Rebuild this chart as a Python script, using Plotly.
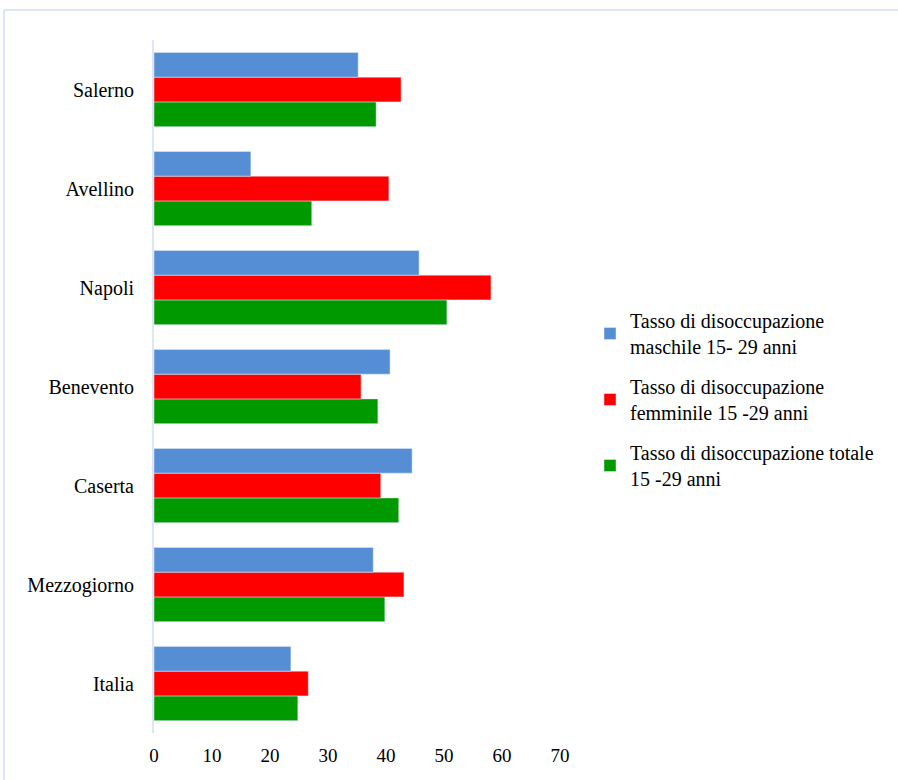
import plotly.graph_objects as go

categories = ["Italia", "Mezzogiorno", "Caserta", "Benevento", "Napoli", "Avellino", "Salerno"]
maschile = [23.6, 37.8, 44.5, 40.7, 45.7, 16.7, 35.2]
femminile = [26.6, 43.1, 39.1, 35.7, 58.1, 40.5, 42.6]
totale = [24.8, 39.8, 42.2, 38.6, 50.5, 27.2, 38.3]
series_names = [
    "Tasso di disoccupazione<br>maschile 15- 29 anni",
    "Tasso di disoccupazione<br>femminile 15 -29 anni",
    "Tasso di disoccupazione totale<br>15 -29 anni",
]
x_ticks = [0, 10, 20, 30, 40, 50, 60, 70]

FONT = "Liberation Serif"
W, H = 898, 780
L, R, T, B = 154, 338, 40, 47

fig = go.Figure()
# added bottom-to-top within each group
fig.add_trace(go.Bar(y=categories, x=totale, orientation="h", name=series_names[2],
                     marker_color="#009900", legendrank=3, legendgroup="c"))
fig.add_trace(go.Bar(y=categories, x=femminile, orientation="h", name=series_names[1],
                     marker_color="#FF0000", legendrank=2, legendgroup="b"))
fig.add_trace(go.Bar(y=categories, x=maschile, orientation="h", name=series_names[0],
                     marker_color="#558ED5", legendrank=1, legendgroup="a"))

pw = W - L - R
ph = H - T - B
def px_x(p):
    return (p - L) / pw
def px_y(p):
    return 1 - (p - T) / ph

fig.add_shape(type="line", xref="paper", yref="paper",
              x0=px_x(4), x1=px_x(4), y0=px_y(10), y1=px_y(800),
              line=dict(color="#DCE6F4", width=2))
fig.add_shape(type="line", xref="paper", yref="paper",
              x0=px_x(4), x1=px_x(910), y0=px_y(10), y1=px_y(10),
              line=dict(color="#DCE6F4", width=2))

fig.update_layout(
    width=W, height=H,
    margin=dict(l=L, r=R, t=T, b=B),
    paper_bgcolor="white", plot_bgcolor="white",
    font=dict(family=FONT, size=20, color="#000000"),
    barmode="group", bargap=0.25, bargroupgap=0,
    showlegend=True,
    legend=dict(x=px_x(590), y=px_y(301), xanchor="left", yanchor="top",
                font=dict(family=FONT, size=20), tracegroupgap=11,
                itemwidth=30, bgcolor="rgba(0,0,0,0)"),
    xaxis=dict(range=[0, 70], tickvals=x_ticks, showgrid=False, zeroline=False,
               showline=False, ticks="", ticklabelstandoff=9,
               tickfont=dict(family=FONT, size=19)),
    yaxis=dict(range=[-0.5, 6.5], showgrid=False, zeroline=False,
               showline=True, linecolor="#DCE6F4", linewidth=2, ticks="",
               ticklabelstandoff=14, tickfont=dict(family=FONT, size=20)),
)

fig.write_html("out.html", config={"displayModeBar": False},
               post_script="document.body.style.margin='0';")
